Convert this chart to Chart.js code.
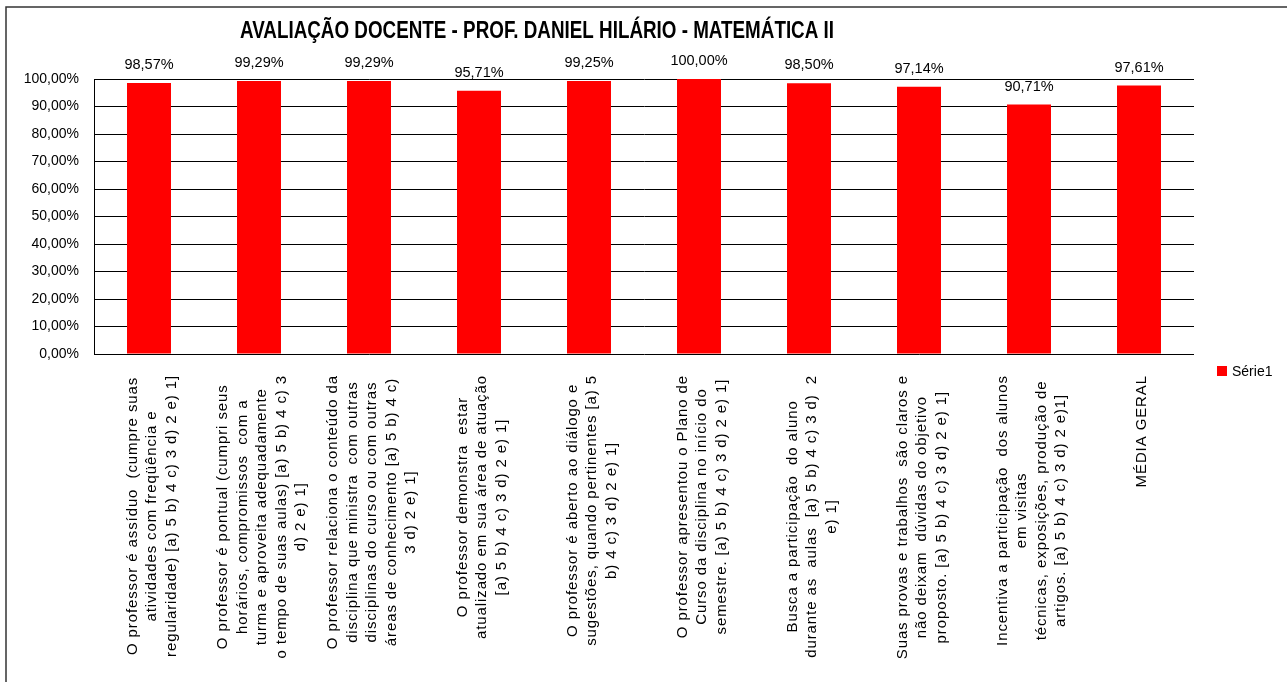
<!DOCTYPE html>
<html lang="pt">
<head>
  <meta charset="UTF-8">
  <title>Avaliação Docente</title>
  <script src="https://cdn.jsdelivr.net/npm/chart.js"></script>
  <style>
    body {
      margin: 0;
      background: #ffffff;
    }

    .wrap {
      width: 1287px;
      height: 682px;
      position: relative;
    }
  </style>
</head>
<body>

  <div class="wrap">
    <canvas id="avaliacaoChart"></canvas>
  </div>

  <script>
    // category labels, already split in lines like in the original sheet
    const categories = [
      ["O professor é assíduo  (cumpre suas", "atividades com freqüência e", "regularidade) [a) 5 b) 4 c) 3 d) 2 e) 1]"],
      ["O professor é pontual (cumpri seus", "horários, compromissos  com a", "turma e aproveita adequadamente", "o tempo de suas aulas) [a) 5 b) 4 c) 3", "d) 2 e) 1]"],
      ["O professor relaciona o conteúdo da", "disciplina que ministra  com outras", "disciplinas do curso ou com outras", "áreas de conhecimento [a) 5 b) 4 c)", "3 d) 2 e) 1]"],
      ["O professor demonstra  estar", "atualizado em sua área de atuação", "[a) 5 b) 4 c) 3 d) 2 e) 1]"],
      ["O professor é aberto ao diálogo e", "sugestões, quando pertinentes [a) 5", "b) 4 c) 3 d) 2 e) 1]"],
      ["O professor apresentou o Plano de", "Curso da disciplina no início do", "semestre. [a) 5 b) 4 c) 3 d) 2 e) 1]"],
      ["Busca a participação  do aluno", "durante as  aulas  [a) 5 b) 4 c) 3 d)  2", "e) 1]"],
      ["Suas provas e trabalhos  são claros e", "não deixam  dúvidas do objetivo", "proposto. [a) 5 b) 4 c) 3 d) 2 e) 1]"],
      ["Incentiva a participação  dos alunos", "em visitas", "técnicas, exposições, produção de", "artigos. [a) 5 b) 4 c) 3 d) 2 e)1]"],
      ["MÉDIA GERAL"]
    ];

    const values = [98.57, 99.29, 99.29, 95.71, 99.25, 100.00, 98.50, 97.14, 90.71, 97.61];

    const seriesName = 'Série1';
    const chartTitle = 'AVALIAÇÃO DOCENTE - PROF. DANIEL HILÁRIO - MATEMÁTICA II';

    const FONT = "'Liberation Sans', Arial, sans-serif";

    function pct(v) {
      return v.toFixed(2).replace('.', ',') + '%';
    }

    // frame, title, value labels, rotated category labels and legend
    const decorations = {
      id: 'decorations',
      beforeDraw(chart) {
        const ctx = chart.ctx;
        ctx.save();
        ctx.fillStyle = '#ffffff';
        ctx.fillRect(0, 0, chart.width, chart.height);
        ctx.strokeStyle = '#333333';
        ctx.lineWidth = 1.5;
        ctx.strokeRect(6, 7, chart.width + 20, chart.height + 20);
        ctx.restore();
      },
      afterDatasetsDraw(chart) {
        const ctx = chart.ctx;
        const meta = chart.getDatasetMeta(0);
        ctx.save();
        ctx.fillStyle = '#000000';
        ctx.font = '14.5px ' + FONT;
        ctx.textAlign = 'center';
        ctx.textBaseline = 'middle';
        meta.data.forEach((bar, i) => {
          ctx.fillText(pct(values[i]), bar.x, bar.y - 18);
        });
        ctx.restore();
      },
      afterDraw(chart) {
        const ctx = chart.ctx;
        const xScale = chart.scales.x;

        // title (narrow bold like the sheet)
        ctx.save();
        ctx.font = 'bold 24px ' + FONT;
        ctx.fillStyle = '#000000';
        ctx.textAlign = 'center';
        ctx.textBaseline = 'middle';
        const tw = ctx.measureText(chartTitle).width;
        ctx.translate(537, 31);
        ctx.scale(594 / tw, 1);
        ctx.fillText(chartTitle, 0, 0);
        ctx.restore();

        // category labels, rotated, lines centred inside a block hanging from the axis
        ctx.save();
        ctx.font = '15px ' + FONT;
        ctx.letterSpacing = '0.9px';
        ctx.fillStyle = '#000000';
        ctx.textAlign = 'center';
        ctx.textBaseline = 'middle';
        const lineH = 19.5;
        const top = chart.chartArea.bottom + 21;
        categories.forEach((lines, i) => {
          const x = xScale.getPixelForValue(i) + 3;
          const w = Math.max(...lines.map(l => ctx.measureText(l).width));
          ctx.save();
          ctx.translate(x, top + w / 2);
          ctx.rotate(-Math.PI / 2);
          lines.forEach((l, j) => {
            ctx.fillText(l, 0, (j - (lines.length - 1) / 2) * lineH);
          });
          ctx.restore();
        });
        ctx.restore();

        // legend
        ctx.save();
        ctx.fillStyle = '#ff0000';
        ctx.fillRect(1217, 366, 10, 10);
        ctx.fillStyle = '#000000';
        ctx.font = '14px ' + FONT;
        ctx.textAlign = 'left';
        ctx.textBaseline = 'middle';
        ctx.fillText(seriesName, 1232, 372);
        ctx.restore();
      }
    };

    const ctx = document.getElementById('avaliacaoChart').getContext('2d');
    new Chart(ctx, {
      type: 'bar',
      data: {
        labels: categories,
        datasets: [{
          label: seriesName,
          data: values,
          backgroundColor: '#ff0000',
          borderWidth: 0,
          barPercentage: 0.4,
          categoryPercentage: 1.0
        }]
      },
      options: {
        responsive: true,
        maintainAspectRatio: false,
        animation: false,
        layout: {
          padding: { top: 79, right: 93, bottom: 0, left: 0 }
        },
        plugins: {
          legend: { display: false },
          title: { display: false },
          tooltip: { enabled: false }
        },
        scales: {
          x: {
            ticks: { display: false },
            grid: { display: false },
            border: { display: false },
            afterFit(s) { s.height = 328; }
          },
          y: {
            min: 0,
            max: 100,
            ticks: {
              stepSize: 10,
              padding: 15,
              color: '#000000',
              font: { family: FONT, size: 14 },
              callback: v => pct(v)
            },
            grid: {
              color: '#000000',
              lineWidth: 1,
              drawTicks: false
            },
            border: { display: true, color: '#000000', width: 1 },
            afterFit(s) { s.width = 94; }
          }
        }
      },
      plugins: [decorations]
    });
  </script>

</body>
</html>
